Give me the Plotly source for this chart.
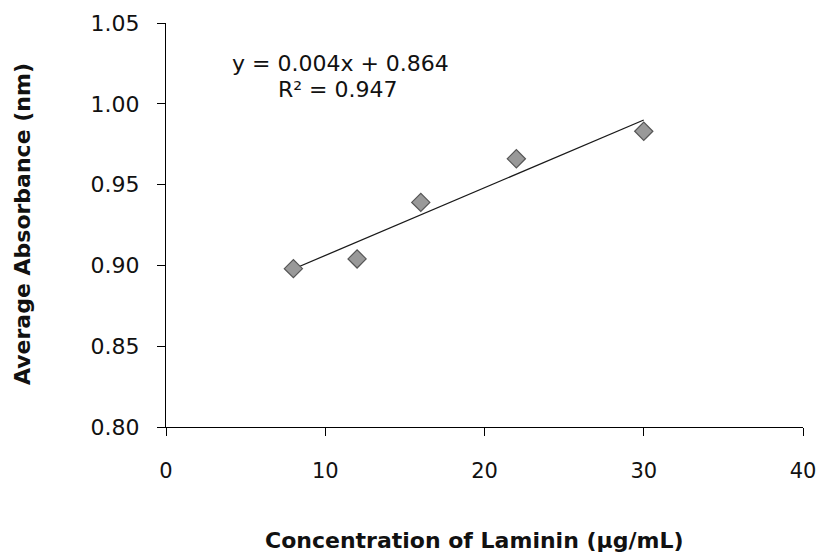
import numpy as np
import plotly.graph_objects as go

# Data
concentration = [8, 12, 16, 22, 30]
absorbance = [0.898, 0.904, 0.939, 0.966, 0.983]
x_ticks = [0, 10, 20, 30, 40]
y_ticks = [0.80, 0.85, 0.90, 0.95, 1.00, 1.05]
x_title = "Concentration of Laminin (µg/mL)"
y_title = "Average Absorbance (nm)"
eq_text = "y = 0.004x + 0.864"
r2_text = "R² = 0.947"

slope, intercept = np.polyfit(concentration, absorbance, 1)
fit_x = [min(concentration), max(concentration)]
fit_y = [slope * v + intercept for v in fit_x]

FONT = "DejaVu Sans"
L, R, T, B = 166, 803, 23, 427  # plot area in pixels
W = R - L
H = B - T

fig = go.Figure()
fig.add_trace(go.Scatter(
    x=fit_x, y=fit_y, mode="lines",
    line=dict(color="#1a1a1a", width=1.3),
    showlegend=False, hoverinfo="skip"))
fig.add_trace(go.Scatter(
    x=concentration, y=absorbance, mode="markers",
    marker=dict(symbol="diamond", size=14, color="#999999",
                line=dict(color="#555555", width=1.2)),
    showlegend=False))

fig.update_layout(
    width=817, height=555,
    margin=dict(l=L, r=817 - R, t=T, b=555 - B),
    paper_bgcolor="white", plot_bgcolor="white",
    font=dict(family=FONT, size=22, color="#111111"),
    xaxis=dict(range=[0, 40], tickvals=x_ticks, ticktext=[str(v) for v in x_ticks],
               showline=True, linecolor="black", linewidth=1.3,
               ticks="outside", ticklen=8, tickcolor="black", tickwidth=1.3,
               ticklabelstandoff=17, automargin=False, ticklabeloverflow="allow",
               showgrid=False, zeroline=False, tickfont=dict(size=21, family=FONT)),
    yaxis=dict(range=[0.80, 1.05], tickvals=y_ticks, ticktext=[f"{v:.2f}" for v in y_ticks],
               showline=True, linecolor="black", linewidth=1.3,
               ticks="outside", ticklen=8, tickcolor="black", tickwidth=1.3,
               ticklabelstandoff=13, automargin=False, ticklabeloverflow="allow",
               showgrid=False, zeroline=False, tickfont=dict(size=22, family=FONT)),
    annotations=[
        dict(text=f"<b>{x_title}</b>", xref="paper", yref="paper",
             x=(474 - L) / W, y=-(540 - B) / H,
             showarrow=False, font=dict(size=22, family=FONT), xanchor="center", yanchor="middle"),
        dict(text=f"<b>{y_title}</b>", xref="paper", yref="paper",
             x=-(L - 22) / W, y=(B - 224) / H, textangle=-90,
             showarrow=False, font=dict(size=22, family=FONT), xanchor="center", yanchor="middle"),
        dict(text=eq_text, xref="paper", yref="paper",
             x=(340 - L) / W, y=(B - 64) / H,
             showarrow=False, font=dict(size=22, family=FONT), xanchor="center", yanchor="middle"),
        dict(text=r2_text, xref="paper", yref="paper",
             x=(338 - L) / W, y=(B - 89) / H,
             showarrow=False, font=dict(size=22, family=FONT), xanchor="center", yanchor="middle"),
    ],
)

fig.write_html("out.html")
